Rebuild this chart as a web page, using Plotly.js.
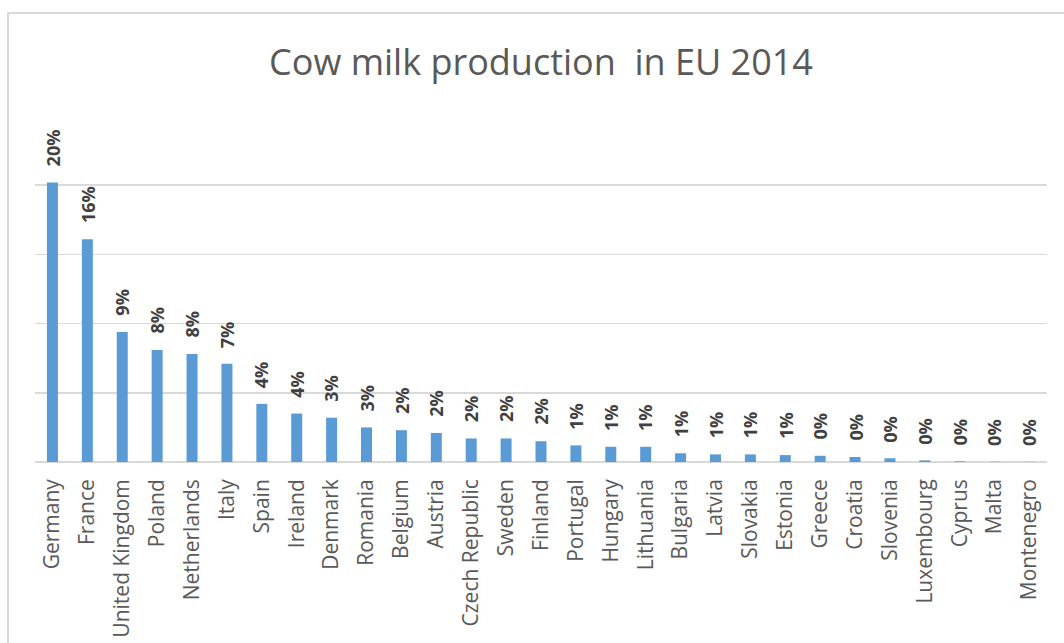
<!DOCTYPE html>
<html>
<head>
<meta charset="utf-8">
<script src="https://cdn.plot.ly/plotly-3.0.1.min.js"></script>
<style>
  html, body { margin: 0; padding: 0; background: #ffffff; }
  #wrap { position: relative; width: 1064px; height: 643px; overflow: hidden; }
  #chart { position: absolute; left: 0; top: 0; width: 1064px; height: 643px; }
  #frame { position: absolute; left: 7px; top: 12px; width: 1100px; height: 700px;
           border-top: 2px solid #d9d9d9; border-left: 2px solid #d9d9d9; pointer-events: none; }
</style>
</head>
<body>
<div id="wrap">
  <div id="chart"></div>
  <div id="frame"></div>
</div>
<script>
const countries = ["Germany", "France", "United Kingdom", "Poland", "Netherlands", "Italy", "Spain",
  "Ireland", "Denmark", "Romania", "Belgium", "Austria", "Czech Republic", "Sweden", "Finland",
  "Portugal", "Hungary", "Lithuania", "Bulgaria", "Latvia", "Slovakia", "Estonia", "Greece",
  "Croatia", "Slovenia", "Luxembourg", "Cyprus", "Malta", "Montenegro"];
const shares = [20.2, 16.1, 9.4, 8.1, 7.8, 7.1, 4.2, 3.5, 3.2, 2.5, 2.3, 2.1, 1.7, 1.7, 1.5,
  1.2, 1.1, 1.1, 0.63, 0.55, 0.55, 0.5, 0.45, 0.36, 0.27, 0.12, 0.05, 0.02, 0.01];
const labels = ["20%", "16%", "9%", "8%", "8%", "7%", "4%", "4%", "3%", "3%", "2%", "2%", "2%", "2%", "2%",
  "1%", "1%", "1%", "1%", "1%", "1%", "1%", "0%", "0%", "0%", "0%", "0%", "0%", "0%"];
const titleText = "Cow milk production  in EU 2014";

const trace = {
  type: "bar",
  x: countries,
  y: shares,
  marker: { color: "#5b9bd5" },
  hoverinfo: "skip"
};

const annotations = countries.map((c, i) => ({
  x: c, y: shares[i], xref: "x", yref: "y",
  text: "<b>" + labels[i] + "</b>",
  textangle: -90,
  showarrow: false,
  xanchor: "center", yanchor: "bottom",
  yshift: 14,
  font: { family: "Open Sans, sans-serif", size: 18, color: "#404040" }
}));

const layout = {
  width: 1064, height: 643,
  margin: { l: 35, r: 17, t: 116, b: 181, pad: 0 },
  paper_bgcolor: "rgba(0,0,0,0)",
  plot_bgcolor: "rgba(0,0,0,0)",
  showlegend: false,
  bargap: 0.685,
  title: {
    text: titleText,
    x: 0.5, xref: "paper", xanchor: "center",
    y: 0.903, yref: "container", yanchor: "middle",
    font: { family: "Open Sans, sans-serif", size: 36, color: "#595959" }
  },
  xaxis: {
    type: "category",
    tickangle: -90,
    ticks: "",
    ticklabelstandoff: 12,
    showline: false,
    showgrid: false,
    tickfont: { family: "Open Sans, sans-serif", size: 21, color: "#595959" }
  },
  yaxis: {
    range: [0, 25],
    dtick: 5,
    showticklabels: false,
    ticks: "",
    showgrid: true,
    gridcolor: "#d9d9d9",
    gridwidth: 1.5,
    zeroline: true,
    zerolinecolor: "#d9d9d9",
    zerolinewidth: 1.5,
    showline: false,
    fixedrange: true
  },
  annotations: annotations,
  hovermode: false
};

Plotly.newPlot("chart", [trace], layout, { displayModeBar: false, staticPlot: true });
</script>
</body>
</html>
